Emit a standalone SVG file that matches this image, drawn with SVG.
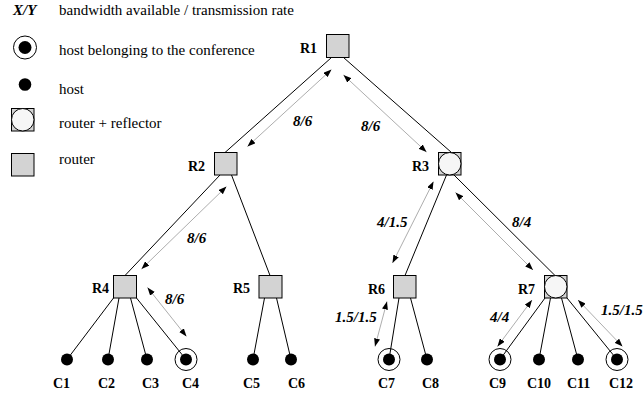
<svg xmlns="http://www.w3.org/2000/svg" width="644" height="395" viewBox="0 0 644 395">
<style>
text{font-family:"Liberation Serif","Times New Roman",serif;fill:#000}
.leg{font-size:15px}
.lbl{font-size:14px;font-weight:bold}
.bw{font-size:15px;font-weight:bold;font-style:italic}
.router{fill:#d3d3d3;stroke:#000;stroke-width:1}
.refl{fill:#f6f6f6;stroke:#000;stroke-width:1}
.dot{fill:#000}
.ring{fill:none;stroke:#000;stroke-width:1}
.edge{stroke:#000;stroke-width:1;fill:none}
.bwline{stroke:#8a8a8a;stroke-width:0.7;fill:none;marker-start:url(#ah);marker-end:url(#ah)}
</style>
<defs>
<marker id="ah" viewBox="0 0 8 6" refX="8" refY="3" markerWidth="8" markerHeight="6" markerUnits="userSpaceOnUse" orient="auto-start-reverse">
<path d="M0,0 L8,3 L0,6 Z" fill="#000"/>
</marker>
</defs>
<rect width="644" height="395" fill="#fff"/>

<g id="legend">
<text class="bw" x="13" y="15">X/Y</text>
<text class="leg" x="59" y="15">bandwidth available / transmission rate</text>
<circle class="ring" cx="25" cy="47.5" r="11.5"/>
<circle class="dot" cx="25" cy="47.5" r="6.5"/>
<text class="leg" x="59" y="55">host belonging to the conference</text>
<circle class="dot" cx="25" cy="84.5" r="6.3"/>
<text class="leg" x="59" y="94">host</text>
<rect class="router" x="11.5" y="108.5" width="22.5" height="22.5"/>
<circle class="refl" cx="22.75" cy="119.75" r="11.25"/>
<text class="leg" x="59" y="128">router + reflector</text>
<rect class="router" x="11.5" y="153.5" width="22.5" height="22.5"/>
<text class="leg" x="59" y="164">router</text>
</g>

<g id="connectors">
<line class="edge" x1="331.5" y1="57.5" x2="225" y2="152.5"/>
<line class="edge" x1="343.5" y1="57.5" x2="451.5" y2="152.5"/>
<line class="edge" x1="220" y1="175" x2="125" y2="275.5"/>
<line class="edge" x1="231.5" y1="175" x2="270" y2="275.5"/>
<line class="edge" x1="446.5" y1="175" x2="405" y2="275.5"/>
<line class="edge" x1="454" y1="175" x2="555" y2="275.5"/>
<line class="edge" x1="113.5" y1="298" x2="67" y2="359.5"/>
<line class="edge" x1="119" y1="298" x2="108" y2="359.5"/>
<line class="edge" x1="130.5" y1="298" x2="147" y2="359.5"/>
<line class="edge" x1="136.5" y1="298" x2="186" y2="359.5"/>
<line class="edge" x1="264.5" y1="298" x2="253" y2="359.5"/>
<line class="edge" x1="276.5" y1="298" x2="291" y2="359.5"/>
<line class="edge" x1="399" y1="298" x2="389" y2="359.5"/>
<line class="edge" x1="410.5" y1="298" x2="427" y2="359.5"/>
<line class="edge" x1="545" y1="298" x2="500" y2="359.5"/>
<line class="edge" x1="550.5" y1="298" x2="539" y2="359.5"/>
<line class="edge" x1="561.5" y1="298" x2="578" y2="359.5"/>
<line class="edge" x1="567" y1="298" x2="617" y2="359.5"/>

<line class="bwline" x1="331.5" y1="69.5" x2="247.5" y2="146.5"/>
<line class="bwline" x1="343.5" y1="75" x2="426.5" y2="152"/>
<line class="bwline" x1="226.5" y1="186.5" x2="141.5" y2="269"/>
<line class="bwline" x1="147.5" y1="287.5" x2="186.5" y2="336.5"/>
<line class="bwline" x1="433.5" y1="181.5" x2="392.5" y2="263"/>
<line class="bwline" x1="455.5" y1="192.5" x2="533" y2="270"/>
<line class="bwline" x1="387" y1="301.5" x2="375" y2="346.5"/>
<line class="bwline" x1="532" y1="300" x2="497.5" y2="346.5"/>
<line class="bwline" x1="578" y1="300" x2="622.5" y2="346.5"/>

<text class="bw" x="293" y="126">8/6</text>
<text class="bw" x="361" y="131">8/6</text>
<text class="bw" x="187" y="243">8/6</text>
<text class="bw" x="165" y="304">8/6</text>
<text class="bw" x="377" y="227">4/1.5</text>
<text class="bw" x="512" y="227">8/4</text>
<text class="bw" x="335" y="322">1.5/1.5</text>
<text class="bw" x="490" y="322">4/4</text>
<text class="bw" x="601" y="315">1.5/1.5</text>
</g>

<g id="R1"><rect class="router" x="326.5" y="34.5" width="22.5" height="23"/><text class="lbl" x="300" y="53">R1</text></g>
<g id="R2"><rect class="router" x="214.5" y="152.5" width="22.5" height="22.5"/><text class="lbl" x="188" y="171">R2</text></g>
<g id="R3"><rect class="router" x="438.5" y="152.5" width="22.5" height="22.5"/><circle class="refl" cx="449.75" cy="163.75" r="11.25"/><text class="lbl" x="412" y="171">R3</text></g>
<g id="R4"><rect class="router" x="113.5" y="275.5" width="23" height="22.5"/><text class="lbl" x="92" y="293">R4</text></g>
<g id="R5"><rect class="router" x="259" y="275.5" width="23" height="22.5"/><text class="lbl" x="233" y="293">R5</text></g>
<g id="R6"><rect class="router" x="393.5" y="275.5" width="22.5" height="22.5"/><text class="lbl" x="368" y="294">R6</text></g>
<g id="R7"><rect class="router" x="544.5" y="275.5" width="22.5" height="22.5"/><circle class="refl" cx="555.75" cy="286.75" r="11.25"/><text class="lbl" x="518" y="294">R7</text></g>

<g id="C1"><circle class="dot" cx="67" cy="359.5" r="6"/><text class="lbl" x="53" y="388">C1</text></g>
<g id="C2"><circle class="dot" cx="108" cy="359.5" r="6"/><text class="lbl" x="98" y="388">C2</text></g>
<g id="C3"><circle class="dot" cx="147" cy="359.5" r="6"/><text class="lbl" x="142" y="388">C3</text></g>
<g id="C4"><circle class="ring" cx="186" cy="359.5" r="11"/><circle class="dot" cx="186" cy="359.5" r="6"/><text class="lbl" x="182" y="388">C4</text></g>
<g id="C5"><circle class="dot" cx="253" cy="359.5" r="6"/><text class="lbl" x="243" y="388">C5</text></g>
<g id="C6"><circle class="dot" cx="291" cy="359.5" r="6"/><text class="lbl" x="288" y="388">C6</text></g>
<g id="C7"><circle class="ring" cx="389" cy="359.5" r="11"/><circle class="dot" cx="389" cy="359.5" r="6"/><text class="lbl" x="378" y="388">C7</text></g>
<g id="C8"><circle class="dot" cx="427" cy="359.5" r="6"/><text class="lbl" x="422" y="388">C8</text></g>
<g id="C9"><circle class="ring" cx="500" cy="359.5" r="11"/><circle class="dot" cx="500" cy="359.5" r="6"/><text class="lbl" x="489" y="388">C9</text></g>
<g id="C10"><circle class="dot" cx="539" cy="359.5" r="6"/><text class="lbl" x="527" y="388">C10</text></g>
<g id="C11"><circle class="dot" cx="578" cy="359.5" r="6"/><text class="lbl" x="567" y="388">C11</text></g>
<g id="C12"><circle class="ring" cx="617" cy="359.5" r="11"/><circle class="dot" cx="617" cy="359.5" r="6"/><text class="lbl" x="609" y="388">C12</text></g>
</svg>
